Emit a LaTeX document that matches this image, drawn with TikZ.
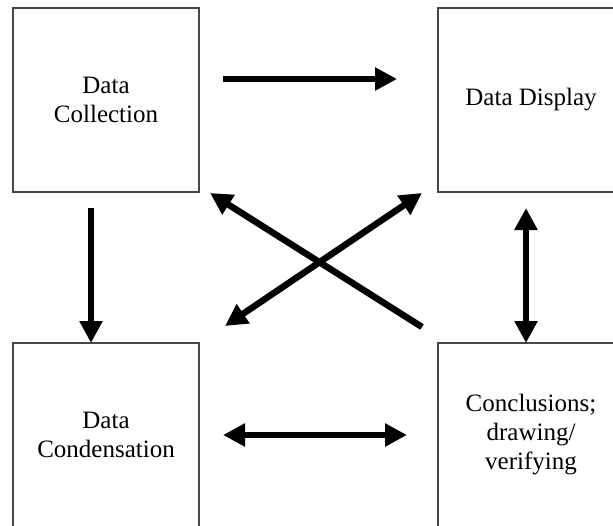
\documentclass[tikz,border=0pt]{standalone}
\usepackage{fontspec}
\setmainfont{Liberation Serif}
\usetikzlibrary{arrows.meta}
\begin{document}
\begin{tikzpicture}[x=1bp,y=-1bp,
  box/.style={draw=black!72,line width=2bp,minimum width=186bp,minimum height=184bp,
    inner sep=0pt,outer sep=0pt,align=center,text=black,
    font=\fontsize{25bp}{29bp}\selectfont},
  arr/.style={line width=6.5bp,-{Triangle[length=22bp,width=22bp]}},
  darr/.style={line width=6.5bp,{Triangle[length=22bp,width=22bp]}-{Triangle[length=22bp,width=22bp]}}]
\useasboundingbox (0,0) rectangle (613,526);
\clip (0,0) rectangle (613,526);
\fill[white] (0,0) rectangle (613,526);

\node[box] (coll) at (106,100) {Data\\Collection};
\node[box] (disp) at (531,100) {Data Display};
\node[box] (cond) at (106,435) {Data\\Condensation};
\node[box] (concl) at (531,435) {Conclusions;\\drawing/\\verifying};

\coordinate (h1s) at (223,79);
\coordinate (h1e) at (397,79);
\coordinate (v1s) at (91,208);
\coordinate (v2s) at (526,208);
\coordinate (h2s) at (223,435);
\coordinate (h2e) at (407,435);
\coordinate (x1s) at (422,327);
\coordinate (x1e) at (210,193);
\coordinate (x2s) at (225,326);
\coordinate (x2e) at (422,193);

\draw[arr] (h1s) -- (h1e);
\draw[arr] (v1s) -- (v1s |- cond.north);
\draw[darr] (v2s) -- (v2s |- concl.north);
\draw[darr] (h2s) -- (h2e);
\draw[arr] (x1s) -- (x1e);
\draw[darr] (x2s) -- (x2e);
\end{tikzpicture}
\end{document}
